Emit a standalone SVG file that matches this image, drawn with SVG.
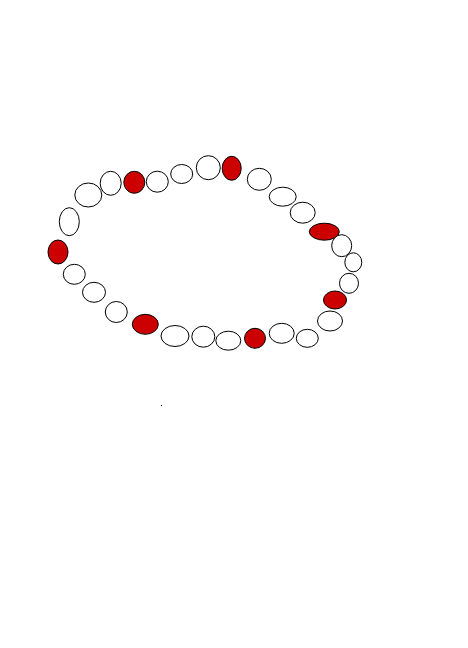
<svg xmlns="http://www.w3.org/2000/svg" width="468" height="648" viewBox="0 0 468 648">
<style>
ellipse{stroke:#000;stroke-width:1}
.w{fill:#fff}
.r{fill:#cc0000}
</style>
<rect width="468" height="648" fill="#fff"/>
<g id="beads">
<ellipse id="b1" class="r" cx="58" cy="252" rx="10" ry="12"/>
<ellipse id="b2" class="w" cx="69.3" cy="221.7" rx="10" ry="14"/>
<ellipse id="b3" class="w" cx="88.3" cy="195" rx="13.5" ry="12"/>
<ellipse id="b4" class="w" cx="110.7" cy="183.3" rx="10.5" ry="12"/>
<ellipse id="b5" class="r" cx="134.3" cy="182.3" rx="10.5" ry="11"/>
<ellipse id="b6" class="w" cx="157.3" cy="181.7" rx="11" ry="10.5"/>
<ellipse id="b7" class="w" cx="181.7" cy="174" rx="11" ry="9.5"/>
<ellipse id="b8" class="w" cx="208.3" cy="167.7" rx="12" ry="12"/>
<ellipse id="b9" class="r" cx="231.7" cy="168.3" rx="9.5" ry="12"/>
<ellipse id="b10" class="w" cx="259.3" cy="179.3" rx="12" ry="11"/>
<ellipse id="b11" class="w" cx="282.7" cy="196.7" rx="13.5" ry="9.5"/>
<ellipse id="b12" class="w" cx="302.7" cy="212.7" rx="12.5" ry="10.5"/>
<ellipse id="b13" class="r" cx="324.3" cy="231.7" rx="15" ry="8.5"/>
<ellipse id="b14" class="w" cx="341.7" cy="245.7" rx="10" ry="11"/>
<ellipse id="b15" class="w" cx="353.3" cy="262.3" rx="8.5" ry="9.5"/>
<ellipse id="b16" class="w" cx="349" cy="283.3" rx="9.5" ry="10"/>
<ellipse id="b17" class="r" cx="335" cy="300" rx="11.5" ry="9"/>
<ellipse id="b18" class="w" cx="330" cy="321" rx="12.5" ry="10"/>
<ellipse id="b19" class="w" cx="307.3" cy="338.3" rx="11" ry="9"/>
<ellipse id="b20" class="w" cx="281.7" cy="333.3" rx="12.5" ry="10"/>
<ellipse id="b21" class="r" cx="255" cy="338.3" rx="10.5" ry="10"/>
<ellipse id="b22" class="w" cx="228.3" cy="340.7" rx="12.5" ry="9.5"/>
<ellipse id="b23" class="w" cx="203.3" cy="336.7" rx="11.5" ry="10.5"/>
<ellipse id="b24" class="w" cx="175" cy="336" rx="14" ry="10.5"/>
<ellipse id="b25" class="r" cx="145.3" cy="324.3" rx="13" ry="10"/>
<ellipse id="b26" class="w" cx="116.3" cy="312" rx="11" ry="10.5"/>
<ellipse id="b27" class="w" cx="94" cy="292.3" rx="11.5" ry="10"/>
<ellipse id="b28" class="w" cx="74.3" cy="274.3" rx="11" ry="10"/>
</g>
<g id="connectors"></g>
<rect x="161" y="405" width="1" height="1" fill="#000"/>
</svg>
